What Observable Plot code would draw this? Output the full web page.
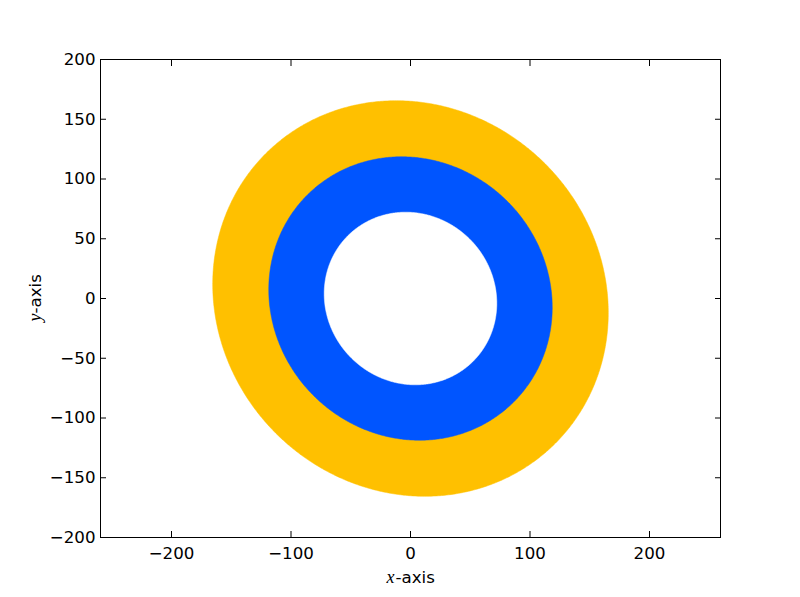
<!DOCTYPE html>
<html><head><meta charset="utf-8">
<script src="https://cdn.jsdelivr.net/npm/d3@7"></script>
<script src="https://cdn.jsdelivr.net/npm/@observablehq/plot@0.6"></script>
<style>html,body{margin:0;padding:0;background:#fff;}</style>
</head><body><div id="chart"></div>
<script>
// tick values
const xTicks = [-200, -100, 0, 100, 200];
const yTicks = [-200, -150, -100, -50, 0, 50, 100, 150, 200];
// ellipses (drawn outer to inner)
const ringNames = ["outer", "middle", "inner"];
const semiMajor = [171.4, 122.3, 74.2];
const semiMinor = [159.4, 114.8, 70.2];
const tiltDeg = [135, 135, 135];
const centerX = [0, 0, 0];
const centerY = [0, 0, 0];
// styles
const ringFill = ["#FFC000", "#0055FF", "#FFFFFF"];

function ellipsePoints(i) {
  const a = semiMajor[i], b = semiMinor[i], th = tiltDeg[i] * Math.PI / 180;
  const pts = [];
  for (let k = 0; k < 720; k++) {
    const t = 2 * Math.PI * k / 720;
    const ex = a * Math.cos(t), ey = b * Math.sin(t);
    pts.push({x: centerX[i] + ex * Math.cos(th) - ey * Math.sin(th),
              y: centerY[i] + ex * Math.sin(th) + ey * Math.cos(th)});
  }
  return pts;
}

const fmt = d3.format("d");
const W = 800, H = 597, mL = 100, mR = 80, mT = 59, mB = 60;
const yDom = [-200, 200];
const xHalf = 200 * (W - mL - mR) / (H - mT - mB);

const ringMarks = ringNames.map((n, i) =>
  Plot.line(ellipsePoints(i), {x: "x", y: "y", fill: ringFill[i], stroke: ringFill[i], strokeWidth: 0.5, curve: "linear-closed"})
);

const chart = Plot.plot({
  width: W, height: H,
  marginLeft: mL, marginRight: mR, marginTop: mT, marginBottom: mB,
  style: {fontFamily: "DejaVu Sans", fontSize: "16.67px", background: "#fff", color: "#000"},
  x: {domain: [-xHalf, xHalf]},
  y: {domain: yDom},
  marks: [
    ...ringMarks,
    Plot.frame({stroke: "#000", strokeWidth: 1}),
    Plot.axisX(xTicks, {anchor: "bottom", tickSize: -6, fill: "none", label: null}),
    Plot.axisX(xTicks, {anchor: "top", tickSize: -6, fill: "none", label: null}),
    Plot.axisY(yTicks, {anchor: "left", tickSize: -6, fill: "none", label: null}),
    Plot.axisY(yTicks, {anchor: "right", tickSize: -6, fill: "none", label: null}),
    Plot.axisX(xTicks, {anchor: "bottom", tickSize: 0, tickPadding: 10, tickFormat: fmt, label: null}),
    Plot.axisY(yTicks, {anchor: "left", tickSize: 0, tickPadding: 5, tickFormat: fmt, label: null}),
    // x label
    Plot.text(["x"], {frameAnchor: "bottom", text: d => d, dx: -24, dy: 40, textAnchor: "start", lineAnchor: "middle", fontFamily: "Liberation Serif", fontStyle: "italic", fontSize: 18}),
    Plot.text(["-axis"], {frameAnchor: "bottom", text: d => d, dx: -15, dy: 40, textAnchor: "start", lineAnchor: "middle"}),
    // y label
    Plot.text(["y"], {frameAnchor: "left", text: d => d, dx: -65, dy: 23, rotate: -90, textAnchor: "start", lineAnchor: "middle", fontFamily: "Liberation Serif", fontStyle: "italic", fontSize: 18}),
    Plot.text(["-axis"], {frameAnchor: "left", text: d => d, dx: -65, dy: 15, rotate: -90, textAnchor: "start", lineAnchor: "middle"})
  ]
});
document.getElementById("chart").appendChild(chart);
</script>
</body></html>
